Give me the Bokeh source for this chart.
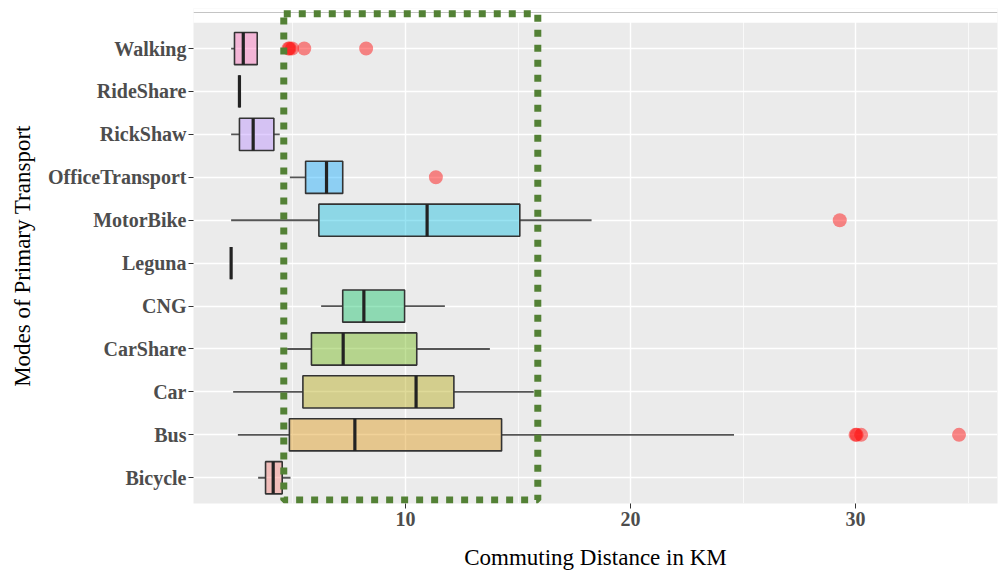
from bokeh.plotting import figure
from bokeh.models import (ColumnDataSource, Range1d, FixedTicker, BoxAnnotation, Span)
from bokeh.embed import file_html
from bokeh.resources import INLINE

# ---------------- data ----------------
categories = ["Bicycle", "Bus", "Car", "CarShare", "CNG", "Leguna",
              "MotorBike", "OfficeTransport", "RickShaw", "RideShare", "Walking"]
whisker_low = [3.45, 2.55, 2.34, 4.74, 6.25, 2.25, 2.25, 4.86, 2.25, 2.62, 2.25]
q1          = [3.78, 4.84, 5.44, 5.82, 7.21, 2.25, 6.15, 5.56, 2.62, 2.62, 2.40]
median      = [4.12, 7.75, 10.47, 7.23, 8.15, 2.25, 10.96, 6.49, 3.23, 2.62, 2.79]
q3          = [4.52, 14.27, 12.15, 10.50, 9.96, 2.25, 15.08, 7.21, 4.15, 2.62, 3.41]
whisker_high = [4.89, 24.60, 15.70, 13.75, 11.75, 2.25, 18.27, 7.21, 4.41, 2.62, 3.41]
colors = ["#F8766D", "#DB8E00", "#AEA200", "#64B200", "#00BD5C", "#00C1A7",
          "#00BADE", "#00A6FF", "#B385FF", "#EF67EB", "#FF63B6"]

outlier_cat = ["Walking", "Walking", "Walking", "Walking", "Walking",
               "OfficeTransport", "MotorBike", "Bus", "Bus", "Bus", "Bus"]
outlier_val = [4.80, 4.85, 4.96, 5.50, 8.25, 11.35, 29.30, 30.00, 30.05, 30.25, 34.60]

x_ticks = [10, 20, 30]
x_minor = [5, 15, 25, 35]
highlight = dict(left=4.59, right=15.88, top=10.81, bottom=-0.52)

# ---------------- figure ----------------
pos = list(range(len(categories)))
cat_pos = {c: i for i, c in enumerate(categories)}
X0, X1 = 0.578, 36.31
PANEL_TOP = 10.6           # top of the grey panel (ggplot expansion)
Y_TOP = 10.933             # frame extends a little above the panel

p = figure(width=998, height=572, output_backend="svg", toolbar_location=None,
           x_range=Range1d(X0, X1), y_range=Range1d(-0.6, Y_TOP),
           min_border_left=193, min_border_right=1, min_border_top=8,
           min_border_bottom=69)
p.background_fill_color = "#EBEBEB"
p.border_fill_color = "white"
p.outline_line_color = None

# white strip above the panel (hides grid lines there)
p.quad(left=[X0 - 1], right=[X1 + 1], bottom=[PANEL_TOP], top=[Y_TOP + 1],
       fill_color="white", line_color=None)
# thin frame line of the original image (top edge)
p.add_layout(Span(location=10.84, dimension="width", line_color="#c4c4c4",
                  line_width=1))

src = ColumnDataSource(dict(y=pos, cat=categories, wl=whisker_low, q1=q1,
                            med=median, q3=q3, wh=whisker_high, color=colors))

# whiskers
p.segment(x0="wl", y0="y", x1="q1", y1="y", source=src,
          line_color="#555555", line_width=1.8)
p.segment(x0="q3", y0="y", x1="wh", y1="y", source=src,
          line_color="#555555", line_width=1.8)
# boxes
p.hbar(y="y", left="q1", right="q3", height=0.75, source=src,
       fill_color="color", fill_alpha=0.4, line_color="#333333", line_width=1.6)
# medians
src_med = ColumnDataSource(dict(x=median, y0=[v - 0.375 for v in pos],
                                y1=[v + 0.375 for v in pos]))
p.segment(x0="x", y0="y0", x1="x", y1="y1", source=src_med,
          line_color="#222222", line_width=3.2)

# outliers
src_out = ColumnDataSource(dict(x=outlier_val, y=[cat_pos[c] for c in outlier_cat]))
p.scatter(x="x", y="y", source=src_out, size=14, fill_color="#FF0000",
          fill_alpha=0.45, line_color=None)

# highlight rectangle (dotted green)
p.add_layout(BoxAnnotation(fill_alpha=0, line_color="#538135", line_alpha=1,
                           line_width=7, line_dash="7 8", level="overlay",
                           **highlight))

# ---------------- axes ----------------
serif = "Liberation Serif"
p.xaxis.ticker = FixedTicker(ticks=x_ticks, minor_ticks=x_minor)
p.yaxis.ticker = FixedTicker(ticks=pos, minor_ticks=[])
p.yaxis.major_label_overrides = {i: c for i, c in enumerate(categories)}

for ax in (p.xaxis[0], p.yaxis[0]):
    ax.axis_line_color = None
    ax.minor_tick_line_color = None
    ax.major_tick_line_color = "#333333"
    ax.major_tick_in = 0
    ax.major_tick_out = 5
    ax.major_label_text_font = serif
    ax.major_label_text_font_style = "bold"
    ax.major_label_text_font_size = "20px"
    ax.major_label_text_color = "#4D4D4D"
    ax.major_label_standoff = 2
    ax.axis_label_text_font = serif
    ax.axis_label_text_font_style = "normal"
    ax.axis_label_text_font_size = "23px"
    ax.axis_label_text_color = "black"

p.xaxis.axis_label = "Commuting Distance in KM"
p.yaxis.axis_label = "Modes of Primary Transport"
p.xaxis.major_label_standoff = 3
p.xaxis.axis_label_standoff = 16
p.yaxis.axis_label_standoff = 10

p.xgrid.grid_line_color = "white"
p.xgrid.grid_line_width = 1.4
p.xgrid.minor_grid_line_color = "white"
p.xgrid.minor_grid_line_width = 0.7
p.ygrid.grid_line_color = "white"
p.ygrid.grid_line_width = 1.4

open("out.html", "w").write(file_html(p, INLINE))
